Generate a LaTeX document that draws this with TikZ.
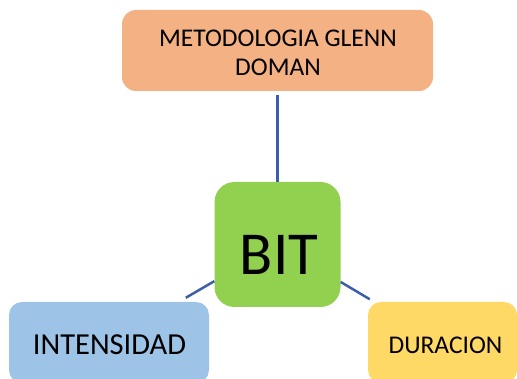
\documentclass[tikz,border=0pt]{standalone}
\usepackage{fontspec}
\setmainfont{Carlito}
\usepackage{tikz}

\definecolor{boxorange}{HTML}{F4B183}
\definecolor{boxgreen}{HTML}{92D050}
\definecolor{boxblue}{HTML}{9DC3E6}
\definecolor{boxyellow}{HTML}{FFD966}
\definecolor{linkblue}{HTML}{3C5FAA}

\tikzset{
  box/.style={rounded corners=#1,inner sep=0pt},
  box/.default=13pt,
  conn/.style={draw=linkblue,line width=2.5pt},
  lbl/.style={anchor=base,inner sep=0pt,text=black}
}

\begin{document}
\begin{tikzpicture}[x=1pt,y=-1pt]
		\useasboundingbox (0,0) rectangle (517,379);
		\clip (0,0) rectangle (517,379);
		
		% boxes
		\node [box=14pt,fill=boxorange,minimum width=311pt,minimum height=81pt] (metodo) at (277.5,50.5) {};
		\node [box=20pt,fill=boxgreen,minimum width=126pt,minimum height=125pt] (bit) at (277.5,244.5) {};
		\node [box,fill=boxblue,minimum width=200pt,minimum height=81pt] (intensidad) at (109,342.5) {};
		\node [box,fill=boxyellow,minimum width=149pt,minimum height=81pt] (duracion) at (442.5,342.5) {};
		
		% texts
		\node [lbl,font=\fontsize{25.5}{29}\selectfont] (metodo-a) at (278,47) {METODOLOGIA GLENN};
		\node [lbl,font=\fontsize{25.5}{29}\selectfont] (metodo-b) at (278,76) {DOMAN};
		\node [lbl,font=\fontsize{61}{70}\selectfont] (bit-txt) at (279,275) {BIT};
		\node [lbl,font=\fontsize{30.5}{36}\selectfont] (intensidad-txt) at (109.5,355) {INTENSIDAD};
		\node [lbl,font=\fontsize{25.5}{30}\selectfont] (duracion-txt) at (445.5,354) {DURACION};
		
		% connectors
		\draw [conn,shorten >=4pt] (bit) -- (metodo);
		\draw [conn,shorten >=8pt] (bit) -- (intensidad);
		\draw [conn,shorten >=5pt] (bit) -- (duracion);
		
	\end{tikzpicture}
\end{document}
